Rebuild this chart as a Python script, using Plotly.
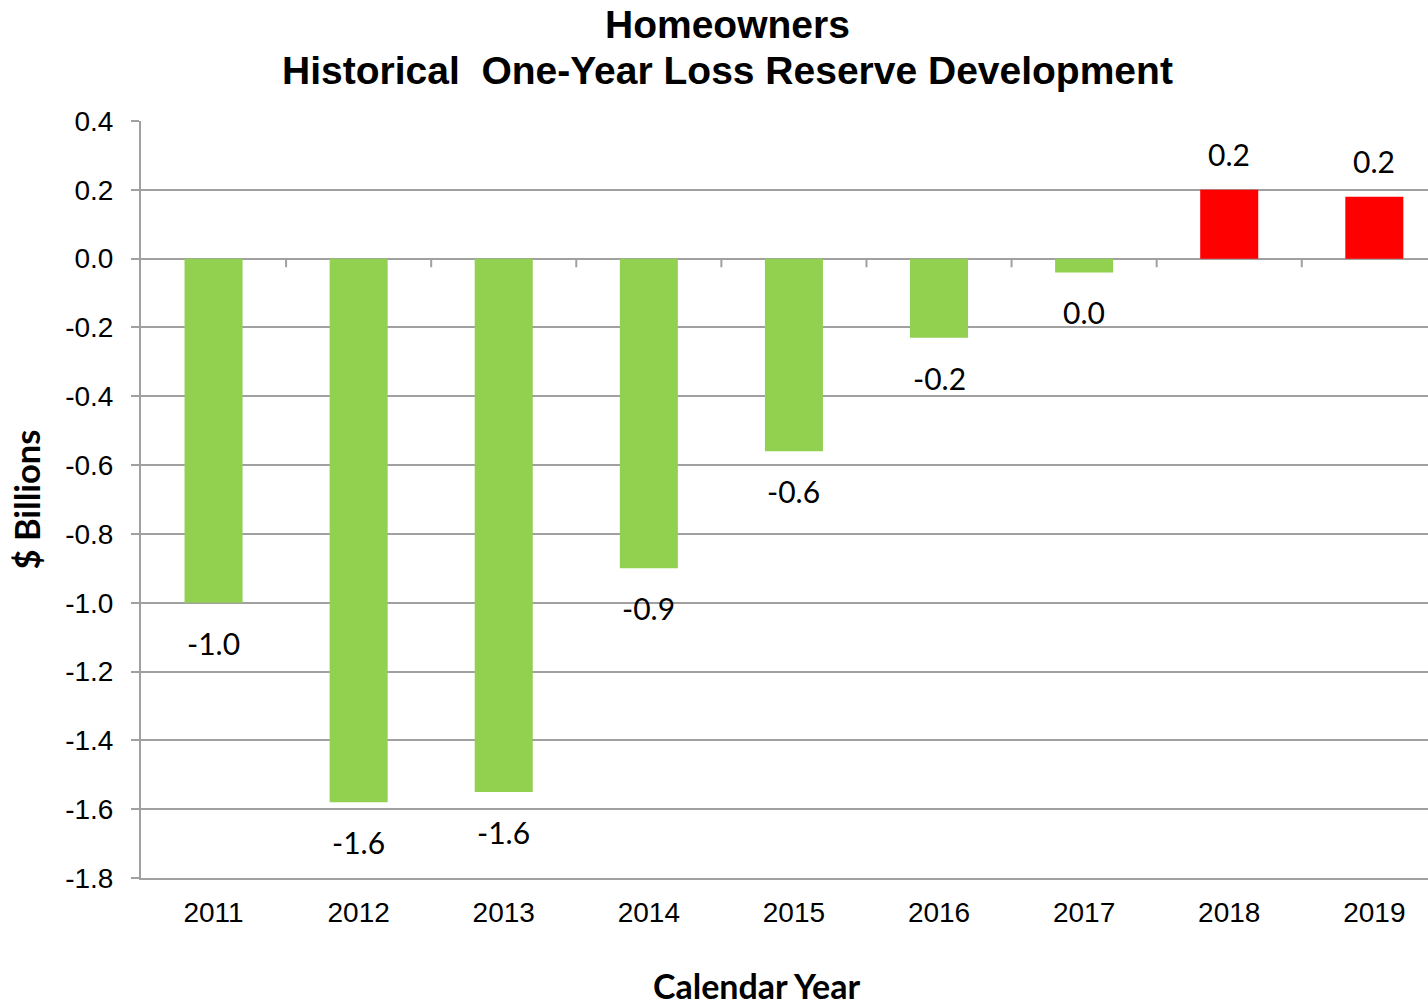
import plotly.graph_objects as go

# Homeowners one-year loss reserve development, $ billions
years = ["2011", "2012", "2013", "2014", "2015", "2016", "2017", "2018", "2019"]
development = [-1.00, -1.58, -1.55, -0.90, -0.56, -0.23, -0.04, 0.20, 0.18]

y_tickvals = [0.4, 0.2, 0.0, -0.2, -0.4, -0.6, -0.8, -1.0, -1.2, -1.4, -1.6, -1.8]
y_ticktext = ["0.4", "0.2", "0.0", "-0.2", "-0.4", "-0.6", "-0.8", "-1.0", "-1.2", "-1.4", "-1.6", "-1.8"]

title_lines = ["Homeowners", "Historical\u00a0 One-Year Loss Reserve Development"]

GREEN = "#92D050"
RED = "#FF0000"
GRID = "#A0A0A0"
ARIAL = "'Liberation Sans', Arial, sans-serif"
SANS = "Lato, 'Open Sans', sans-serif"

colors = [RED if v > 0 else GREEN for v in development]


def label(v):
    # one decimal, without a "-0.0"
    return f"{round(v, 1) + 0.0:.1f}"


fig = go.Figure()
fig.add_trace(go.Bar(
    x=years,
    y=development,
    marker=dict(color=colors, line=dict(width=0)),
    width=0.4,
    showlegend=False,
    hoverinfo="x+y",
))

# value labels just beyond the end of each bar (category index positions)
for i, v in enumerate(development):
    fig.add_annotation(
        x=i, y=v, xref="x", yref="y",
        text=label(v), showarrow=False,
        yanchor="middle", xanchor="center",
        yshift=36 if v > 0 else -40,
        font=dict(family=SANS, size=30, color="black"),
    )

# small tick marks on the zero line between categories
for i in range(len(years) - 1):
    fig.add_shape(
        type="line", xref="x", yref="y",
        x0=i + 0.5, x1=i + 0.5, y0=0, y1=-0.025,
        line=dict(color=GRID, width=2), layer="above",
    )

# two-line chart title
for text, ypos in zip(title_lines, [1.128, 1.067]):
    fig.add_annotation(
        x=(727 - 141) / 1287, y=ypos, xref="paper", yref="paper",
        text=text, showarrow=False, xanchor="center", yanchor="middle",
        font=dict(family=ARIAL, size=39, color="black", weight="bold"),
    )

# horizontal axis title
fig.add_annotation(
    x=(757 - 141) / 1287, y=0, xref="paper", yref="paper",
    text="Calendar Year", showarrow=False, xanchor="center", yanchor="middle",
    yshift=-107,
    font=dict(family=SANS, size=34, color="black", weight="bold"),
)

fig.update_layout(
    width=1428, height=1007,
    margin=dict(l=141, r=0, t=121, b=129),
    paper_bgcolor="white", plot_bgcolor="white",
    font=dict(family=ARIAL, color="black"),
)

fig.update_xaxes(
    type="category",
    range=[-0.5, 8.37],
    automargin=False,
    showline=True, linecolor=GRID, linewidth=2,
    showgrid=False, ticks="",
    tickfont=dict(family=ARIAL, size=28, color="black"),
    ticklabelstandoff=8,
)

fig.update_yaxes(
    range=[-1.8, 0.4],
    automargin=False,
    tickvals=y_tickvals, ticktext=y_ticktext,
    showgrid=True, gridcolor=GRID, gridwidth=2,
    zeroline=True, zerolinecolor=GRID, zerolinewidth=2,
    showline=True, linecolor=GRID, linewidth=2,
    ticks="outside", ticklen=8, tickcolor=GRID, tickwidth=2,
    tickfont=dict(family=ARIAL, size=28, color="black"),
    ticklabelstandoff=12,
    title=dict(
        text="$ Billions", standoff=14,
        font=dict(family=SANS, size=34.5, color="black", weight="bold"),
    ),
)

fig.write_html("out.html")
